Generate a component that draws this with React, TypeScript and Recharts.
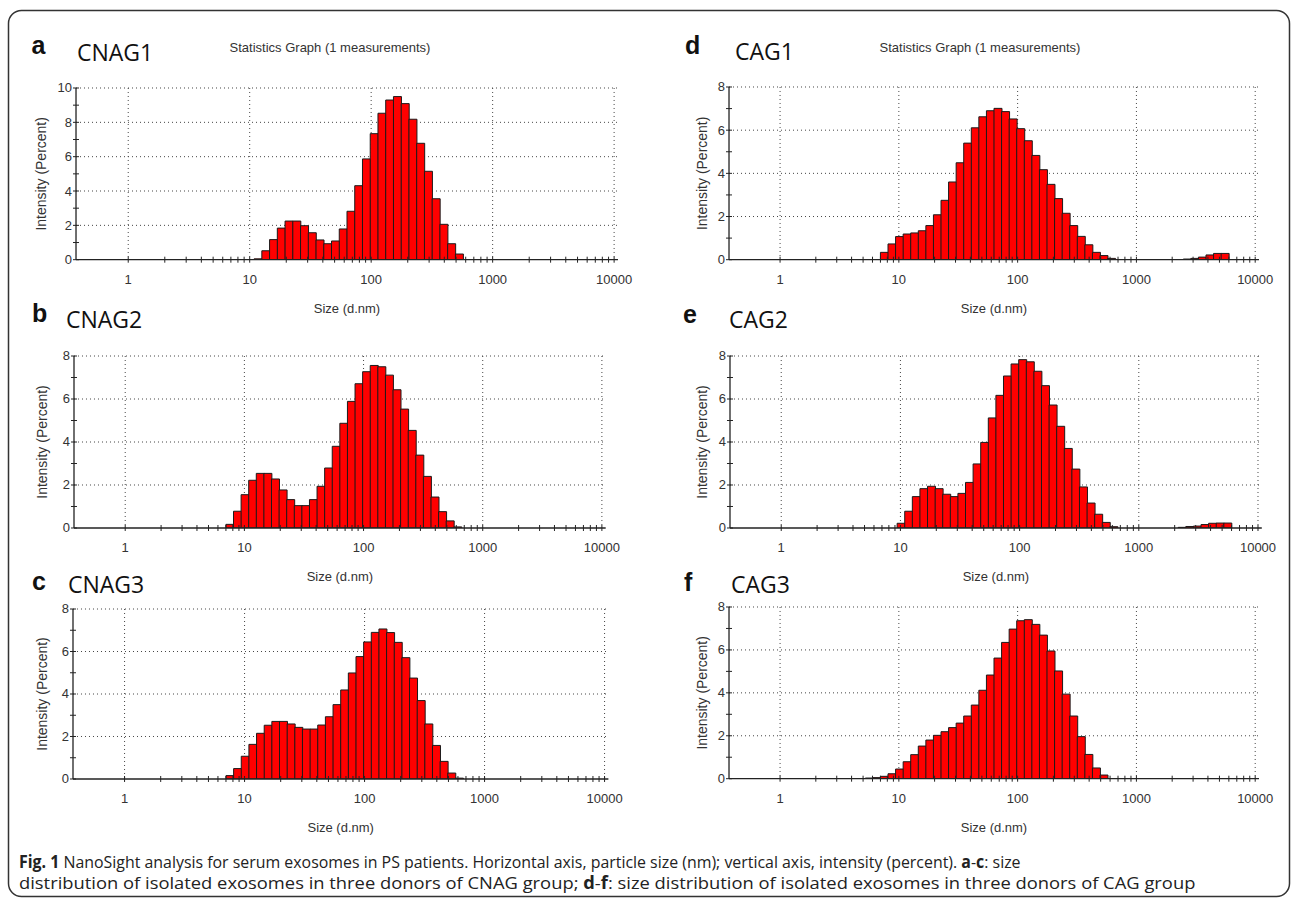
import React, { useLayoutEffect, useRef, useState } from 'react';
import { ComposedChart, Bar, XAxis, YAxis, CartesianGrid } from 'recharts';

// Malvern/NanoSight size classes (d.nm), 70 log-spaced bins
const SIZES = [
  0.4, 0.4632, 0.5365, 0.6213, 0.7195, 0.8332, 0.9649, 1.117, 1.294, 1.499,
  1.736, 2.01, 2.328, 2.696, 3.122, 3.615, 4.187, 4.849, 5.615, 6.503,
  7.531, 8.721, 10.1, 11.7, 13.54, 15.69, 18.17, 21.04, 24.36, 28.21,
  32.67, 37.84, 43.82, 50.75, 58.77, 68.06, 78.82, 91.28, 105.7, 122.4,
  141.8, 164.2, 190.1, 220.2, 255.0, 295.3, 342.0, 396.1, 458.7, 531.2,
  615.1, 712.4, 825.0, 955.4, 1106, 1281, 1484, 1718, 1990, 2305,
  2669, 3091, 3580, 4145, 4801, 5560, 6439, 7456, 8635, 10000,
];

const X_TICKS = [
  1, 2, 3, 4, 5, 6, 7, 8, 9,
  10, 20, 30, 40, 50, 60, 70, 80, 90,
  100, 200, 300, 400, 500, 600, 700, 800, 900,
  1000, 2000, 3000, 4000, 5000, 6000, 7000, 8000, 9000,
  10000,
];
const X_MAJOR = [1, 10, 100, 1000, 10000];
const Y_TICKS_10 = [0, 1, 2, 3, 4, 5, 6, 7, 8, 9, 10];
const Y_GRID_10 = [2, 4, 6, 8, 10];
const Y_TICKS_8 = [0, 1, 2, 3, 4, 5, 6, 7, 8];
const Y_GRID_8 = [2, 4, 6, 8];

// Intensity (%) per bin, starting at the given bin index
const CNAG1_START = 23;
const CNAG1 = [0.05, 0.52, 1.17, 1.84, 2.25, 2.25, 1.98, 1.57, 1.15, 0.93, 1.09, 1.79, 2.82, 4.31, 5.87, 7.34, 8.53, 9.3, 9.5, 9.09, 8.18, 6.78, 5.15, 3.55, 2.06, 0.93, 0.33];

const CNAG2_START = 20;
const CNAG2 = [0.17, 0.78, 1.55, 2.22, 2.54, 2.54, 2.28, 1.77, 1.32, 1.04, 1.04, 1.32, 1.94, 2.79, 3.8, 4.87, 5.89, 6.71, 7.27, 7.56, 7.5, 7.11, 6.43, 5.53, 4.54, 3.39, 2.4, 1.44, 0.76, 0.33, 0.05];

const CNAG3_START = 20;
const CNAG3 = [0.16, 0.49, 1.07, 1.63, 2.15, 2.53, 2.71, 2.71, 2.59, 2.43, 2.35, 2.35, 2.54, 2.93, 3.5, 4.19, 4.99, 5.76, 6.45, 6.9, 7.06, 6.89, 6.43, 5.71, 4.75, 3.69, 2.59, 1.58, 0.83, 0.28, 0.04];

const CAG1_START = 20;
const CAG1 = [0.34, 0.73, 1.07, 1.19, 1.24, 1.34, 1.58, 2.08, 2.75, 3.6, 4.49, 5.4, 6.11, 6.62, 6.9, 7.01, 6.86, 6.52, 6.07, 5.51, 4.83, 4.17, 3.49, 2.83, 2.15, 1.58, 1.08, 0.69, 0.34, 0.19, 0.06];
const CAG1_TAIL_START = 60;
const CAG1_TAIL = [0.03, 0.06, 0.12, 0.22, 0.29, 0.29];

const CAG2_START = 22;
const CAG2 = [0.22, 0.78, 1.46, 1.83, 1.94, 1.83, 1.57, 1.46, 1.61, 2.12, 2.98, 3.98, 5.12, 6.17, 7.07, 7.63, 7.83, 7.73, 7.29, 6.62, 5.72, 4.73, 3.7, 2.74, 1.91, 1.16, 0.64, 0.26, 0.06];
const CAG2_TAIL_START = 59;
const CAG2_TAIL = [0.03, 0.07, 0.09, 0.16, 0.22, 0.23, 0.23];

const CAG3_START = 18;
const CAG3 = [0.03, 0.05, 0.11, 0.23, 0.45, 0.79, 1.12, 1.52, 1.8, 2.02, 2.19, 2.38, 2.59, 2.92, 3.43, 4.12, 4.83, 5.62, 6.35, 6.97, 7.36, 7.41, 7.19, 6.69, 5.95, 5.02, 3.94, 2.92, 1.96, 1.13, 0.5, 0.17];

type Part = { start: number; values: number[] };

const buildRows = (parts: Part[]) =>
  SIZES.map((size, i) => {
    let v = 0;
    for (const p of parts) {
      const k = i - p.start;
      if (k >= 0 && k < p.values.length) v = p.values[k];
    }
    return { size, v };
  });

const PANELS = [
  { letter: 'a', name: 'CNAG1', parts: [{ start: CNAG1_START, values: CNAG1 }], yTicks: Y_TICKS_10, yGrid: Y_GRID_10, title: true },
  { letter: 'b', name: 'CNAG2', parts: [{ start: CNAG2_START, values: CNAG2 }], yTicks: Y_TICKS_8, yGrid: Y_GRID_8, title: false },
  { letter: 'c', name: 'CNAG3', parts: [{ start: CNAG3_START, values: CNAG3 }], yTicks: Y_TICKS_8, yGrid: Y_GRID_8, title: false },
  { letter: 'd', name: 'CAG1', parts: [{ start: CAG1_START, values: CAG1 }, { start: CAG1_TAIL_START, values: CAG1_TAIL }], yTicks: Y_TICKS_8, yGrid: Y_GRID_8, title: true },
  { letter: 'e', name: 'CAG2', parts: [{ start: CAG2_START, values: CAG2 }, { start: CAG2_TAIL_START, values: CAG2_TAIL }], yTicks: Y_TICKS_8, yGrid: Y_GRID_8, title: false },
  { letter: 'f', name: 'CAG3', parts: [{ start: CAG3_START, values: CAG3 }], yTicks: Y_TICKS_8, yGrid: Y_GRID_8, title: false },
];

// Layout (page pixels)
const LAYOUT: Record<string, any> = {
  a: { left: 75.5, right: 617.5, top: 88.3, bottom: 260, yLabelX: 41, letterX: 31.5, letterY: 54, nameX: 77, nameY: 60.5, titleX: 330, titleY: 52 },
  b: { left: 74, right: 605.7, top: 355.7, bottom: 527.7, yLabelX: 42, letterX: 32, letterY: 322, nameX: 66, nameY: 328 },
  c: { left: 73.4, right: 608.8, top: 609, bottom: 779, yLabelX: 42, letterX: 32, letterY: 590, nameX: 68, nameY: 593 },
  d: { left: 728.5, right: 1258.5, top: 87.3, bottom: 260, yLabelX: 702, letterX: 685, letterY: 54, nameX: 735, nameY: 59.5, titleX: 980, titleY: 52 },
  e: { left: 729.8, right: 1261.6, top: 355.7, bottom: 527.7, yLabelX: 702, letterX: 683, letterY: 323, nameX: 729, nameY: 328 },
  f: { left: 728.5, right: 1258.5, top: 607.3, bottom: 779, yLabelX: 702, letterX: 684, letterY: 591, nameX: 731, nameY: 593 },
};

const AXIS_FONT = '"Liberation Sans", Arial, sans-serif';

const XTick = (props: any) => {
  const { x, y, payload } = props;
  const v = payload.value;
  const major = X_MAJOR.includes(v);
  return (
    <g>
      <line x1={x} x2={x} y1={y - 3} y2={y + 3} stroke="#222" strokeWidth={1} />
      {major && (
        <text x={x} y={y + 24.5} textAnchor="middle" fontSize={13} fill="#333" fontFamily={AXIS_FONT}>
          {v}
        </text>
      )}
    </g>
  );
};

const YTick = (props: any) => {
  const { x, y, payload } = props;
  const v = payload.value;
  return (
    <g>
      <line x1={x - 3} x2={x + 3} y1={y} y2={y} stroke="#222" strokeWidth={1} />
      {v % 2 === 0 && (
        <text x={x - 4} y={y + 4.5} textAnchor="end" fontSize={13} fill="#333" fontFamily={AXIS_FONT}>
          {v}
        </text>
      )}
    </g>
  );
};

const ML = 60;
const MT = 10;
const MR = 20;
const MB = 6;
const XH = 53;

function Panel({ panel }: { panel: (typeof PANELS)[number] }) {
  const L = LAYOUT[panel.letter];
  const plotW = L.right - L.left;
  const plotH = L.bottom - L.top;
  const rows = buildRows(panel.parts);
  const n = SIZES.length;
  const lo = SIZES[0] / Math.sqrt(SIZES[1] / SIZES[0]);
  const hi = SIZES[n - 1] * Math.sqrt(SIZES[n - 1] / SIZES[n - 2]);
  const yMax = panel.yTicks[panel.yTicks.length - 1];
  return (
    <div style={{ position: 'absolute', left: L.left - ML, top: L.top - MT }}>
      <ComposedChart
        width={plotW + ML + MR}
        height={plotH + MT + XH + MB}
        data={rows}
        margin={{ top: MT, right: MR, bottom: MB, left: 0 }}
        barCategoryGap={0}
        barGap={0}
      >
        <CartesianGrid stroke="#444" strokeDasharray="1 3" verticalValues={X_MAJOR} horizontalValues={panel.yGrid} />
        <XAxis xAxisId="cat" dataKey="size" type="category" hide />
        <XAxis
          dataKey="size"
          type="number"
          scale="log"
          domain={[lo, hi]}
          allowDataOverflow
          ticks={X_TICKS}
          interval={0}
          tick={<XTick />}
          tickLine={false}
          tickSize={0}
          tickMargin={0}
          axisLine={{ stroke: '#222', strokeWidth: 1.3 }}
          height={XH}
          label={{ value: 'Size (d.nm)', position: 'insideBottom', offset: 0, fontSize: 13, fill: '#333', fontFamily: AXIS_FONT }}
        />
        <YAxis
          type="number"
          domain={[0, yMax]}
          allowDataOverflow
          ticks={panel.yTicks}
          interval={0}
          tick={<YTick />}
          tickLine={false}
          tickSize={0}
          tickMargin={0}
          width={ML}
          axisLine={{ stroke: '#222', strokeWidth: 1.3 }}
          label={{
            value: 'Intensity (Percent)',
            angle: -90,
            position: 'insideLeft',
            offset: L.yLabelX - (L.left - ML),
            style: { textAnchor: 'middle' },
            fontSize: 14,
            fill: '#333',
            fontFamily: AXIS_FONT,
          }}
        />
        <Bar xAxisId="cat" dataKey="v" fill="#ff0000" stroke="#1a1a1a" strokeWidth={1} isAnimationActive={false} />
      </ComposedChart>
    </div>
  );
}

const CAPTION_FONT = '"Open Sans", "Noto Sans", sans-serif';

// Caption line squeezed horizontally to the reference's width (condensed type)
function FitLine({ x, y, width, children }: { x: number; y: number; width: number; children: React.ReactNode }) {
  const ref = useRef<SVGTextElement>(null);
  const [sx, setSx] = useState(0.8);
  useLayoutEffect(() => {
    const measure = () => {
      if (ref.current) {
        const w = ref.current.getBBox().width;
        if (w > 0) setSx(width / w);
      }
    };
    measure();
    if ((document as any).fonts && (document as any).fonts.ready) (document as any).fonts.ready.then(measure);
  }, [width]);
  return (
    <g transform={`translate(${x},${y}) scale(${sx},1)`}>
      <text ref={ref} x={0} y={0} fontSize={17} fontFamily={CAPTION_FONT} fill="#222">
        {children}
      </text>
    </g>
  );
}

export default function App() {
  return (
    <div style={{ position: 'absolute', left: 0, top: 0, width: 1293, height: 902, background: '#fff', overflow: 'hidden' }}>
      <svg width={1293} height={902} style={{ position: 'absolute', left: 0, top: 0 }}>
        <rect x={8.5} y={10.5} width={1281} height={886} rx={13} ry={13} fill="none" stroke="#333" strokeWidth={1.5} />
        {PANELS.map((p) => {
          const L = LAYOUT[p.letter];
          return (
            <g key={p.letter}>
              <text x={L.letterX} y={L.letterY} fontSize={25} fontWeight="bold" fontFamily={AXIS_FONT} fill="#111">
                {p.letter}
              </text>
              <text x={L.nameX} y={L.nameY} fontSize={23} fontFamily={CAPTION_FONT} fill="#111">
                {p.name}
              </text>
              {p.title && (
                <text x={L.titleX} y={L.titleY} fontSize={13} textAnchor="middle" fontFamily={AXIS_FONT} fill="#333">
                  Statistics Graph (1 measurements)
                </text>
              )}
            </g>
          );
        })}
        <FitLine x={19} y={868} width={1002}>
          <tspan fontWeight="bold">Fig. 1</tspan>
          {' NanoSight analysis for serum exosomes in PS patients. Horizontal axis, particle size (nm); vertical axis, intensity (percent). '}
          <tspan fontWeight="bold">a</tspan>
          {'-'}
          <tspan fontWeight="bold">c</tspan>
          {': size'}
        </FitLine>
        <FitLine x={19} y={889} width={1176}>
          {'distribution of isolated exosomes in three donors of CNAG group; '}
          <tspan fontWeight="bold">d</tspan>
          {'-'}
          <tspan fontWeight="bold">f</tspan>
          {': size distribution of isolated exosomes in three donors of CAG group'}
        </FitLine>
      </svg>
      {PANELS.map((p) => (
        <Panel key={p.letter} panel={p} />
      ))}
    </div>
  );
}
